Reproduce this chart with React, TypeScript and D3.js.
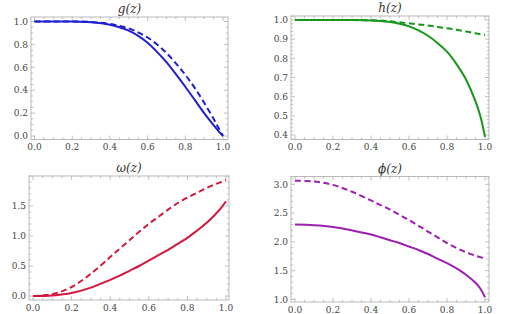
import React, { useEffect, useRef } from 'react';
import * as d3 from 'd3';

// sample points along z
const zs = [0, 0.1, 0.2, 0.3, 0.4, 0.45, 0.5, 0.55, 0.6, 0.65, 0.7, 0.75, 0.8, 0.85, 0.9, 0.95, 0.975, 1];

const gSolid = [1, 1, 1, 0.993, 0.972, 0.95, 0.92, 0.875, 0.815, 0.735, 0.645, 0.54, 0.43, 0.315, 0.2, 0.095, 0.045, 0];
const gDashed = [1, 1, 1, 0.996, 0.978, 0.962, 0.94, 0.905, 0.86, 0.8, 0.725, 0.635, 0.535, 0.42, 0.29, 0.15, 0.075, 0];
const hSolid = [1, 1, 1, 1, 0.998, 0.995, 0.989, 0.98, 0.967, 0.946, 0.918, 0.88, 0.835, 0.77, 0.69, 0.575, 0.5, 0.39];
const hDashed = [1, 1, 1, 1, 0.999, 0.997, 0.993, 0.988, 0.983, 0.977, 0.971, 0.964, 0.957, 0.949, 0.94, 0.931, 0.926, 0.922];
const wSolid = [0, 0.01, 0.05, 0.14, 0.27, 0.34, 0.42, 0.5, 0.59, 0.68, 0.77, 0.87, 0.97, 1.09, 1.22, 1.38, 1.47, 1.58];
const wDashed = [0, 0.03, 0.15, 0.37, 0.65, 0.79, 0.93, 1.07, 1.2, 1.32, 1.44, 1.55, 1.64, 1.72, 1.8, 1.87, 1.9, 1.93];
const pSolid = [2.3, 2.29, 2.26, 2.2, 2.13, 2.08, 2.03, 1.98, 1.92, 1.86, 1.79, 1.71, 1.63, 1.54, 1.43, 1.29, 1.19, 1.04];
const pDashed = [3.06, 3.05, 2.99, 2.87, 2.72, 2.64, 2.56, 2.47, 2.38, 2.28, 2.18, 2.08, 1.98, 1.895, 1.82, 1.76, 1.735, 1.71];

const xTicks = [0, 0.2, 0.4, 0.6, 0.8, 1.0];
const gTicks = [0, 0.2, 0.4, 0.6, 0.8, 1.0];
const hTicks = [0.4, 0.5, 0.6, 0.7, 0.8, 0.9, 1.0];
const wTicks = [0, 0.5, 1.0, 1.5];
const pTicks = [1.0, 1.5, 2.0, 2.5, 3.0];

const serif = 'DejaVu Serif, Liberation Serif, Times New Roman, Times, serif';

const panels = [
  { title: 'g(z)', color: '#1e1ed2', solid: gSolid, dashed: gDashed, yTicks: gTicks, yMinor: 0.05,
    frame: [31, 17, 228, 139.5], xr: [34.5, 223], yd: [0, 1], yr: [136, 21.5] },
  { title: 'h(z)', color: '#17961a', solid: hSolid, dashed: hDashed, yTicks: hTicks, yMinor: 0.02,
    frame: [291, 16, 489, 139.5], xr: [295, 485], yd: [0.4, 1], yr: [135, 20] },
  { title: 'ω(z)', color: '#d4173c', solid: wSolid, dashed: wDashed, yTicks: wTicks, yMinor: 0.1,
    frame: [29, 176, 229, 300], xr: [33, 226], yd: [0, 1.5], yr: [296, 206] },
  { title: 'ϕ(z)', color: '#9c1fae', solid: pSolid, dashed: pDashed, yTicks: pTicks, yMinor: 0.1,
    frame: [291, 176.5, 489, 302], xr: [295, 485], yd: [1, 3], yr: [299.5, 184.3] },
];

const App = () => {
  const ref = useRef(null);

  useEffect(() => {
    const svg = d3.select(ref.current);
    svg.selectAll('*').remove();

    panels.forEach(p => {
      const [fx0, fy0, fx1, fy1] = p.frame;
      const x = d3.scaleLinear().domain([0, 1]).range(p.xr);
      const y = d3.scaleLinear().domain(p.yd).range(p.yr);
      const g = svg.append('g');

      // frame
      g.append('rect')
        .attr('x', fx0).attr('y', fy0)
        .attr('width', fx1 - fx0).attr('height', fy1 - fy0)
        .attr('fill', 'none').attr('stroke', '#a8a8a8').attr('stroke-width', 0.8);

      // x ticks (bottom and top), minor every 0.05
      d3.range(0, 1.0001, 0.05).forEach(v => {
        const major = xTicks.some(t => Math.abs(t - v) < 1e-6);
        const len = major ? 4 : 2.2;
        const px = x(v);
        g.append('line').attr('x1', px).attr('x2', px).attr('y1', fy1).attr('y2', fy1 - len)
          .attr('stroke', '#a8a8a8').attr('stroke-width', 0.7);
        g.append('line').attr('x1', px).attr('x2', px).attr('y1', fy0).attr('y2', fy0 + len)
          .attr('stroke', '#a8a8a8').attr('stroke-width', 0.7);
      });
      xTicks.forEach(v => {
        g.append('text').attr('x', x(v)).attr('y', fy1 + 10.5)
          .attr('text-anchor', 'middle')
          .style('font-family', serif).style('font-size', '9px')
          .attr('fill', '#444').text(v.toFixed(1));
      });

      // y ticks (left and right)
      const yLo = y.invert(fy1), yHi = y.invert(fy0);
      const start = Math.ceil(yLo / p.yMinor - 1e-6) * p.yMinor;
      d3.range(start, yHi + 1e-6, p.yMinor).forEach(v => {
        const major = p.yTicks.some(t => Math.abs(t - v) < 1e-6);
        const len = major ? 4 : 2.2;
        const py = y(v);
        g.append('line').attr('x1', fx0).attr('x2', fx0 + len).attr('y1', py).attr('y2', py)
          .attr('stroke', '#a8a8a8').attr('stroke-width', 0.7);
        g.append('line').attr('x1', fx1).attr('x2', fx1 - len).attr('y1', py).attr('y2', py)
          .attr('stroke', '#a8a8a8').attr('stroke-width', 0.7);
      });
      p.yTicks.forEach(v => {
        g.append('text').attr('x', fx0 - 3).attr('y', y(v) + 3.2)
          .attr('text-anchor', 'end')
          .style('font-family', serif).style('font-size', '9px')
          .attr('fill', '#444').text(v.toFixed(1));
      });

      // title
      g.append('text').attr('x', (fx0 + fx1) / 2).attr('y', fy0 - 4)
        .attr('text-anchor', 'middle')
        .style('font-family', serif).style('font-size', '12px')
        .style('font-style', 'italic').attr('fill', '#333').text(p.title);

      const line = d3.line<number>()
        .x((_, i) => x(zs[i]))
        .y(d => y(d))
        .curve(d3.curveCatmullRom.alpha(0.5));

      g.append('path').attr('d', line(p.dashed))
        .attr('fill', 'none').attr('stroke', p.color).attr('stroke-width', 2)
        .attr('stroke-dasharray', '6,3.5');
      g.append('path').attr('d', line(p.solid))
        .attr('fill', 'none').attr('stroke', p.color).attr('stroke-width', 2);
    });
  }, []);

  return (
    <svg ref={ref} width={506} height={314} style={{ position: 'absolute', left: 0, top: 0 }} />
  );
};

export default App;
